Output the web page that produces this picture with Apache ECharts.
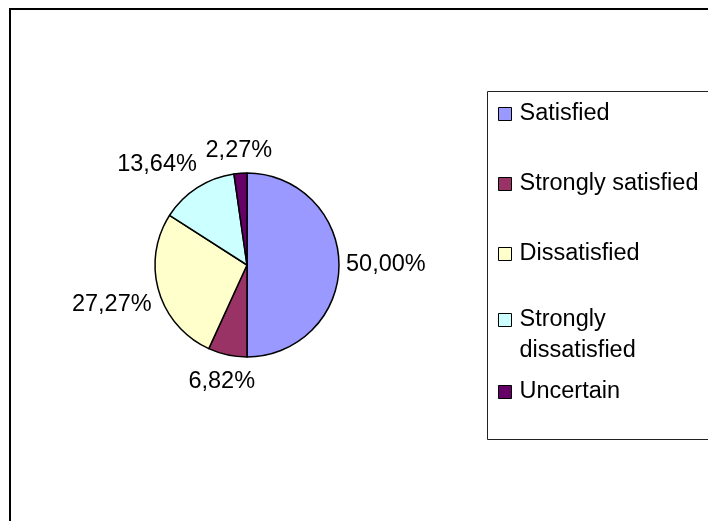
<!DOCTYPE html>
<html>
<head>
<meta charset="utf-8">
<script src="https://cdn.jsdelivr.net/npm/echarts@6/dist/echarts.min.js"></script>
<style>
  html, body { margin: 0; padding: 0; background: #fff; }
  #chart { width: 708px; height: 521px; }
</style>
</head>
<body>
<div id="chart"></div>
<script>
var categories = ['Satisfied', 'Strongly satisfied', 'Dissatisfied', 'Strongly dissatisfied', 'Uncertain'];
var shares = [50.00, 6.82, 27.27, 13.64, 2.27];
var colors = ['#9999FF', '#993366', '#FFFFCC', '#CCFFFF', '#660066'];

var FONT = '"Liberation Sans", Arial, sans-serif';
var FS = 23.5, LH = 26;
var CX = 247, CY = 265, R = 92, GAP = 7;

var total = shares.reduce(function (a, b) { return a + b; }, 0);

var fmt = function (v) {
    return v.toFixed(2).replace('.', ',') + '%';
};

// mid angle of a slice, clockwise from 12 o'clock
var midAngle = function (idx) {
    var before = 0;
    for (var i = 0; i < idx; i++) before += shares[i];
    return (before + shares[idx] / 2) / total * Math.PI * 2;
};

// measure label text so that labels can be kept apart like Excel does
var ctx = document.createElement('canvas').getContext('2d');
ctx.font = FS + 'px ' + FONT;

var boxAt = function (a, w, h) {
    var dx = Math.sin(a), dy = -Math.cos(a);
    var d = R + GAP + Math.abs(dx) * w / 2 + Math.abs(dy) * h / 2;
    var x = CX + dx * d, y = CY + dy * d;
    return { x: x, y: y, l: x - w / 2, r: x + w / 2, t: y - h / 2, b: y + h / 2 };
};

var hit = function (p, q) {
    var m = 8;
    return p.l < q.r + m && q.l < p.r + m && p.t < q.b && q.t < p.b;
};

var labelPos = [];
(function () {
    var placed = [];
    for (var i = shares.length - 1; i >= 0; i--) {
        var w = ctx.measureText(fmt(shares[i])).width;
        var a = midAngle(i);
        var box = boxAt(a, w, LH);
        var n = 0;
        while (placed.some(function (q) { return hit(box, q); }) && n < 90) {
            a -= Math.PI / 180;
            box = boxAt(a, w, LH);
            n++;
        }
        placed.push(box);
        labelPos[i] = box;
    }
})();

var chart = echarts.init(document.getElementById('chart'));

var legendBase = function (names, top, text) {
    return {
        orient: 'vertical',
        left: 498,
        top: top,
        padding: 0,
        itemGap: 44,
        itemWidth: 13,
        itemHeight: 13,
        icon: 'rect',
        selectedMode: false,
        data: names,
        itemStyle: { borderColor: '#000', borderWidth: 1 },
        textStyle: text
    };
};

var singleText = { fontFamily: FONT, fontSize: FS, color: '#000', lineHeight: 26, padding: [0, 0, 0, 3] };

// two-line entry: marker sits beside the first line
var twoLine = legendBase([categories[3]], 304.5,
    { fontFamily: FONT, fontSize: FS, color: '#000', lineHeight: 31, padding: [0, 0, 0, 3] });
twoLine.itemHeight = 44;
twoLine.icon = 'path://M0,0L13,0L13,13L0,13Z M0,44L0,44';
twoLine.formatter = function (name) { return name.replace(' ', '\n'); };

chart.setOption({
    animation: false,
    backgroundColor: '#fff',
    color: colors,
    graphic: [
        {
            type: 'rect',
            shape: { x: 10, y: 9, width: 900, height: 900 },
            style: { fill: 'none', stroke: '#000', lineWidth: 2 },
            silent: true
        },
        {
            type: 'rect',
            shape: { x: 487.5, y: 91.5, width: 300, height: 348 },
            style: { fill: 'none', stroke: '#222', lineWidth: 1 },
            silent: true
        }
    ],
    legend: [
        legendBase(categories.slice(0, 3), 101, singleText),
        twoLine,
        legendBase([categories[4]], 379, singleText)
    ],
    series: [
        {
            type: 'pie',
            center: [CX, CY],
            radius: R,
            startAngle: 90,
            clockwise: true,
            data: categories.map(function (c, i) {
                return { name: c, value: shares[i] };
            }),
            itemStyle: { borderColor: '#000', borderWidth: 1.5 },
            emphasis: { disabled: true },
            label: {
                show: true,
                position: 'outside',
                fontFamily: FONT,
                fontSize: FS,
                lineHeight: LH,
                color: '#000',
                formatter: function (p) { return fmt(p.value); }
            },
            labelLine: { show: false },
            labelLayout: function (params) {
                var b = labelPos[params.dataIndex];
                return { x: b.x, y: b.y, align: 'center', verticalAlign: 'middle' };
            }
        }
    ]
});
</script>
</body>
</html>
